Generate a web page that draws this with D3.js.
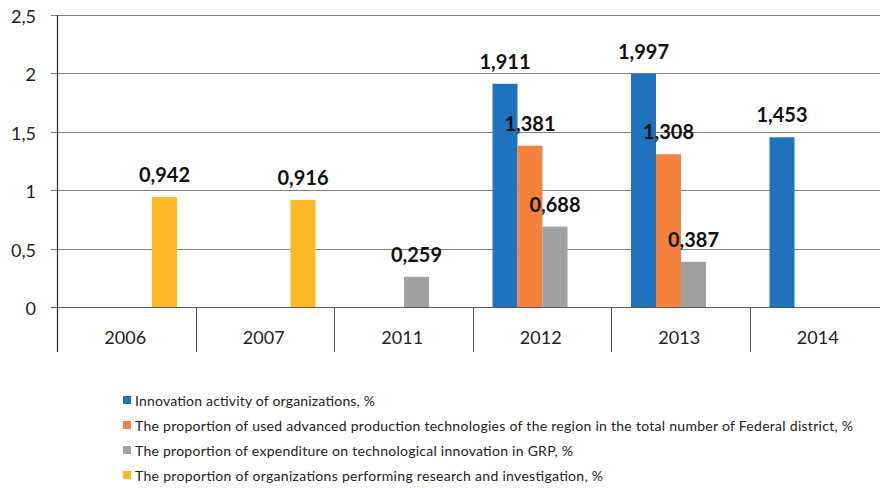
<!DOCTYPE html>
<html>
<head>
<meta charset="utf-8">
<script src="https://cdn.jsdelivr.net/npm/d3@7"></script>
<style>
  html, body { margin: 0; padding: 0; background: #fff; }
  svg { display: block; }
</style>
</head>
<body>
<svg id="chart" width="880" height="488"></svg>
<script>
const categories = ["2006", "2007", "2011", "2012", "2013", "2014"];
const seriesNames = [
  "Innovation activity of organizations, %",
  "The proportion of used advanced production technologies of the region in the total number of Federal district, %",
  "The proportion of expenditure on technological innovation in GRP, %",
  "The proportion of organizations performing research and investigation,  %"
];
const seriesColors = ["#1f72bd", "#f4813c", "#a0a0a0", "#fdb826"];
// null = no value for that year
const innovationActivity = [null, null, null, 1.911, 1.997, 1.453];
const advancedTech       = [null, null, null, 1.381, 1.308, null];
const expenditureGRP     = [null, null, 0.259, 0.688, 0.387, null];
const researchOrgs       = [0.942, 0.916, null, null, null, null];
const yTicks = [0, 0.5, 1, 1.5, 2, 2.5];
const yTickLabels = ["0", "0,5", "1", "1,5", "2", "2,5"];
const legendEnds = [375, 853, 573, 603];

const seriesValues = [innovationActivity, advancedTech, expenditureGRP, researchOrgs];

const svg = d3.select("#chart");
const FONT = "Lato, 'Liberation Sans', sans-serif";

const plotLeft = 57, plotRight = 888, plotTop = 15, plotBottom = 307;
const y = d3.scaleLinear().domain([0, 2.5]).range([plotBottom, plotTop]);
const x = d3.scaleBand().domain(categories).range([plotLeft, plotRight]).padding(0);
const xs = d3.scaleBand().domain(d3.range(4)).range([20, 120]).padding(0);

// gridlines
svg.append("g").selectAll("line").data(yTicks).join("line")
  .attr("x1", plotLeft - 6).attr("x2", 880)
  .attr("y1", d => Math.round(y(d)) + 0.5).attr("y2", d => Math.round(y(d)) + 0.5)
  .attr("stroke", d => d === 0 ? "#595959" : "#7f7f7f").attr("stroke-width", 1.2);

// category separators
const seps = categories.map((c, i) => x(c)).slice(1);
svg.append("g").selectAll("line").data(seps).join("line")
  .attr("x1", d => Math.round(d) + 0.5).attr("x2", d => Math.round(d) + 0.5)
  .attr("y1", plotBottom).attr("y2", 352)
  .attr("stroke", "#595959").attr("stroke-width", 1);

// left axis line
svg.append("line")
  .attr("x1", plotLeft + 0.5).attr("x2", plotLeft + 0.5)
  .attr("y1", plotTop).attr("y2", 352)
  .attr("stroke", "#262626").attr("stroke-width", 1.2);

// y tick labels
svg.append("g").selectAll("text").data(yTicks).join("text")
  .attr("x", 36).attr("y", d => y(d) + 8)
  .attr("text-anchor", "end")
  .attr("font-family", FONT).attr("font-size", 18).attr("fill", "#222")
  .text((d, i) => yTickLabels[i]);

// bars
const barData = [];
seriesValues.forEach((vals, s) => vals.forEach((v, ci) => {
  if (v !== null) barData.push({ s, cat: categories[ci], v });
}));

svg.append("g").selectAll("rect").data(barData).join("rect")
  .attr("x", d => x(d.cat) + xs(d.s))
  .attr("width", xs.bandwidth())
  .attr("y", d => y(d.v))
  .attr("height", d => y(0) - y(d.v))
  .attr("fill", d => seriesColors[d.s]);

// data labels
svg.append("g").selectAll("text").data(barData).join("text")
  .attr("x", d => x(d.cat) + xs(d.s) + xs.bandwidth() / 2)
  .attr("y", d => y(d.v) - 15)
  .attr("text-anchor", "middle")
  .attr("font-family", FONT).attr("font-weight", "bold").attr("font-size", 20)
  .attr("fill", "#111")
  .text(d => d.v.toFixed(3).replace(".", ","));

// category labels
svg.append("g").selectAll("text").data(categories).join("text")
  .attr("x", d => x(d) + x.bandwidth() / 2 - 1)
  .attr("y", 344)
  .attr("text-anchor", "middle")
  .attr("font-family", FONT).attr("font-size", 18).attr("fill", "#222")
  .text(d => d);

// legend
const lg = svg.append("g").selectAll("g").data(seriesNames).join("g")
  .attr("transform", (d, i) => `translate(0, ${400.5 + i * 25})`);
lg.append("rect").attr("x", 123).attr("y", -4.5).attr("width", 8).attr("height", 8)
  .attr("fill", (d, i) => seriesColors[i]);
lg.append("text").attr("x", 135).attr("y", 5)
  .attr("font-family", FONT).attr("font-size", 14).attr("fill", "#222")
  .attr("textLength", (d, i) => legendEnds[i] - 135)
  .attr("lengthAdjust", "spacing")
  .text(d => d);
</script>
</body>
</html>
